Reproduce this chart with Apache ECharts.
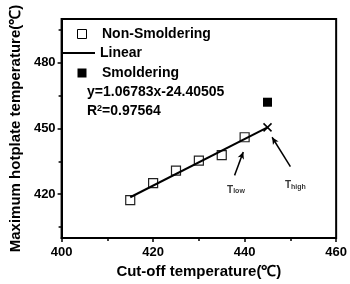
<!DOCTYPE html>
<html>
<head>
<meta charset="utf-8">
<script src="https://cdn.jsdelivr.net/npm/echarts@6/dist/echarts.min.js"></script>
<style>
  html, body { margin: 0; padding: 0; background: #fff; }
  #chart { width: 350px; height: 284px; }
</style>
</head>
<body>
<div id="chart"></div>
<script>
  // values
  const cutoffNon = [415, 420, 425, 430, 435, 440]
  const hotplateNon = [417.3, 425.1, 430.8, 435.3, 437.8, 446.0]
  const cutoffSmold = [445]
  const hotplateSmold = [462]
  const fitX = [415, 445]
  const fitY = [418.6, 450.5]
  const yLabels = [420, 450, 480]
  const yMinor = [405, 435, 465, 495]
  // arrows: [from, to] in data units
  const arrowLow = [[437.8, 428.6], [439.7, 439.3]]
  const arrowHigh = [[450.0, 432.6], [446.0, 446.0]]
  const tLabels = [[438.1, 422.0, 'low'], [451.1, 424.0, 'high']]

  const font = 'Liberation Sans, Arial, sans-serif'
  const myChart = echarts.init(document.getElementById('chart'))

  const getData = () => {
    const option = {
      animation: false,
      textStyle: { fontFamily: font, color: '#000' },
      title: [{
        text: 'y=1.06783x-24.40505',
        left: 82, top: 80,
        textStyle: { fontSize: 14, fontWeight: 'bold', color: '#000', fontFamily: font }
      }, {
        text: '{a|R}{b|2}{a|=0.97564}',
        left: 82, top: 99,
        textStyle: {
          fontFamily: font,
          rich: {
            a: { fontSize: 14, fontWeight: 'bold', color: '#000', fontFamily: font },
            b: { fontSize: 9, fontWeight: 'bold', color: '#000', verticalAlign: 'top', fontFamily: font }
          }
        }
      }],
      legend: [{
        orient: 'vertical',
        left: 72, top: 22,
        itemWidth: 30, itemHeight: 9,
        itemGap: 25,
        textStyle: { fontSize: 14, fontWeight: 'bold', color: '#000', fontFamily: font },
        data: [{
          name: 'Non-Smoldering',
          icon: 'path://M0,0H10V10H0Z',
          itemStyle: { color: '#fff', borderColor: '#000', borderWidth: 1, opacity: 1 }
        }, {
          name: 'Smoldering',
          icon: 'path://M0,0H10V10H0Z',
          itemStyle: { color: '#000', opacity: 1 }
        }]
      }, {
        left: 58, top: 41,
        itemWidth: 32, itemHeight: 2,
        textStyle: { fontSize: 14, fontWeight: 'bold', color: '#000', fontFamily: font },
        data: [{ name: 'Linear', icon: 'rect', itemStyle: { color: '#000', opacity: 1 } }]
      }],
      grid: {
        left: 60, right: 12, top: 19, bottom: 41,
        show: true, borderColor: '#000', borderWidth: 2
      },
      xAxis: {
        type: 'value',
        min: 400, max: 460, interval: 20,
        name: 'Cut-off temperature(℃)',
        nameLocation: 'middle', nameGap: 26,
        nameTextStyle: { fontSize: 15, fontWeight: 'bold', color: '#000', fontFamily: font },
        axisLine: { lineStyle: { color: '#000', width: 2 } },
        axisTick: { inside: false, length: 4, lineStyle: { color: '#000', width: 1.5 } },
        minorTick: { show: true, splitNumber: 2, length: 3, lineStyle: { color: '#000', width: 1.5 } },
        splitLine: { show: false },
        axisLabel: { fontSize: 13, fontWeight: 'bold', color: '#000', margin: 8, fontFamily: font }
      },
      yAxis: [{
        type: 'value',
        min: 400, max: 500,
        name: 'Maximum hotplate temperature(℃)',
        nameLocation: 'middle', nameGap: 38,
        nameTextStyle: { fontSize: 15, fontWeight: 'bold', color: '#000', fontFamily: font },
        axisLine: { show: true, lineStyle: { color: '#000', width: 2 } },
        axisTick: { show: true, length: 4, customValues: yLabels, lineStyle: { color: '#000', width: 1.5 } },
        splitLine: { show: false },
        axisLabel: { fontSize: 13, fontWeight: 'bold', color: '#000', margin: 6, customValues: yLabels, fontFamily: font }
      }, {
        type: 'value',
        min: 400, max: 500,
        position: 'left',
        axisLine: { show: false },
        axisTick: { show: true, length: 3, customValues: yMinor, lineStyle: { color: '#000', width: 1.5 } },
        axisLabel: { show: false },
        splitLine: { show: false }
      }],
      series: [{
        name: 'Non-Smoldering',
        type: 'scatter',
        symbol: 'rect',
        symbolSize: 9,
        itemStyle: { color: '#fff', borderColor: '#222', borderWidth: 1.2, opacity: 1 },
        data: cutoffNon.map((x, i) => [x, hotplateNon[i]]),
        z: 3
      }, {
        name: 'Linear',
        type: 'line',
        symbol: 'none',
        lineStyle: { color: '#000', width: 2 },
        itemStyle: { color: '#000' },
        data: fitX.map((x, i) => {
          const item = { value: [x, fitY[i]] }
          if (i === fitX.length - 1) {
            item.symbol = 'path://M0,0L10,10M10,0L0,10'
            item.symbolSize = 8
            item.itemStyle = { color: 'none', borderColor: '#000', borderWidth: 1.5 }
          }
          return item
        }),
        z: 4
      }, {
        name: 'Smoldering',
        type: 'scatter',
        symbol: 'rect',
        symbolSize: 9,
        itemStyle: { color: '#000', opacity: 1 },
        data: cutoffSmold.map((x, i) => [x, hotplateSmold[i]])
      }, {
        name: 'notes',
        type: 'scatter',
        symbolSize: 0,
        silent: true,
        data: tLabels,
        label: {
          show: true,
          position: 'inside',
          formatter: p => '{t|T}{s|' + p.data[2] + '}',
          rich: {
            t: { fontSize: 10, fontWeight: 'bold', color: '#000', fontFamily: font },
            s: { fontSize: 7, fontWeight: 'bold', color: '#000', verticalAlign: 'bottom', fontFamily: font }
          }
        },
        markLine: {
          silent: true,
          symbol: ['none', 'arrow'],
          symbolSize: [5, 7],
          label: { show: false },
          lineStyle: { color: '#000', width: 1.5, type: 'solid' },
          data: [
            [{ coord: arrowLow[0] }, { coord: arrowLow[1] }],
            [{ coord: arrowHigh[0] }, { coord: arrowHigh[1] }]
          ]
        }
      }]
    }
    return option
  }

  myChart.setOption(getData())
</script>
</body>
</html>
